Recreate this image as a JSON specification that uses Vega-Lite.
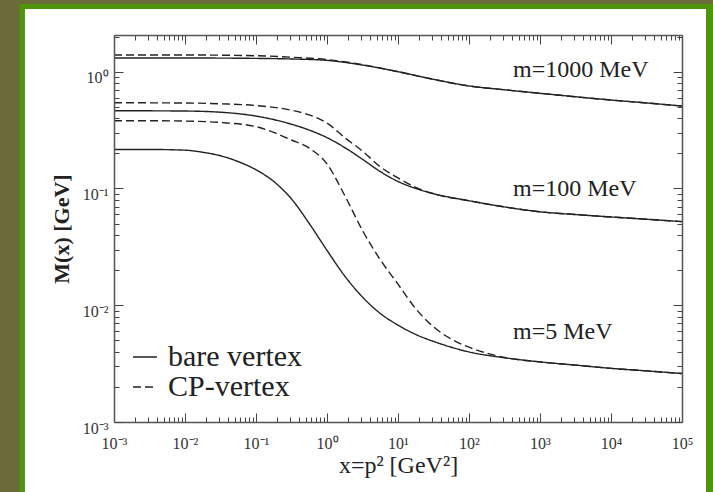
{
  "$schema": "https://vega.github.io/schema/vega-lite/v6.json",
  "width": 568,
  "height": 387,
  "autosize": {"type": "none"},
  "padding": {"left": 114, "top": 35, "right": 31, "bottom": 70},
  "background": "#6b6a3a",
  "config": {
    "font": "Liberation Serif",
    "view": {"stroke": null, "fill": null},
    "axis": {"grid": false, "domain": false, "zindex": 1, "tickColor": "#444", "tickWidth": 1, "domainColor": "#555", "domainWidth": 1.5}
  },
  "datasets": {
    "curves": [
      {"x": 0.001, "y": 1.31, "m": "1000", "vertex": "bare vertex"},
      {"x": 0.01, "y": 1.31, "m": "1000", "vertex": "bare vertex"},
      {"x": 0.1, "y": 1.30, "m": "1000", "vertex": "bare vertex"},
      {"x": 0.3162, "y": 1.285, "m": "1000", "vertex": "bare vertex"},
      {"x": 1, "y": 1.25, "m": "1000", "vertex": "bare vertex"},
      {"x": 3.162, "y": 1.14, "m": "1000", "vertex": "bare vertex"},
      {"x": 10, "y": 1.0, "m": "1000", "vertex": "bare vertex"},
      {"x": 31.62, "y": 0.86, "m": "1000", "vertex": "bare vertex"},
      {"x": 100, "y": 0.755, "m": "1000", "vertex": "bare vertex"},
      {"x": 316.2, "y": 0.70, "m": "1000", "vertex": "bare vertex"},
      {"x": 1000, "y": 0.653, "m": "1000", "vertex": "bare vertex"},
      {"x": 3162, "y": 0.61, "m": "1000", "vertex": "bare vertex"},
      {"x": 10000, "y": 0.572, "m": "1000", "vertex": "bare vertex"},
      {"x": 31623, "y": 0.54, "m": "1000", "vertex": "bare vertex"},
      {"x": 100000, "y": 0.508, "m": "1000", "vertex": "bare vertex"},

      {"x": 0.001, "y": 1.39, "m": "1000", "vertex": "CP-vertex"},
      {"x": 0.01, "y": 1.39, "m": "1000", "vertex": "CP-vertex"},
      {"x": 0.1, "y": 1.37, "m": "1000", "vertex": "CP-vertex"},
      {"x": 0.3162, "y": 1.33, "m": "1000", "vertex": "CP-vertex"},
      {"x": 1, "y": 1.27, "m": "1000", "vertex": "CP-vertex"},
      {"x": 3.162, "y": 1.15, "m": "1000", "vertex": "CP-vertex"},
      {"x": 10, "y": 1.0, "m": "1000", "vertex": "CP-vertex"},
      {"x": 31.62, "y": 0.86, "m": "1000", "vertex": "CP-vertex"},
      {"x": 100, "y": 0.755, "m": "1000", "vertex": "CP-vertex"},
      {"x": 316.2, "y": 0.70, "m": "1000", "vertex": "CP-vertex"},
      {"x": 1000, "y": 0.653, "m": "1000", "vertex": "CP-vertex"},
      {"x": 3162, "y": 0.61, "m": "1000", "vertex": "CP-vertex"},
      {"x": 10000, "y": 0.572, "m": "1000", "vertex": "CP-vertex"},
      {"x": 31623, "y": 0.54, "m": "1000", "vertex": "CP-vertex"},
      {"x": 100000, "y": 0.508, "m": "1000", "vertex": "CP-vertex"},

      {"x": 0.001, "y": 0.4634, "m": "100", "vertex": "bare vertex"},
      {"x": 0.01, "y": 0.4603, "m": "100", "vertex": "bare vertex"},
      {"x": 0.03162, "y": 0.4498, "m": "100", "vertex": "bare vertex"},
      {"x": 0.1, "y": 0.4169, "m": "100", "vertex": "bare vertex"},
      {"x": 0.3162, "y": 0.3548, "m": "100", "vertex": "bare vertex"},
      {"x": 0.5623, "y": 0.3162, "m": "100", "vertex": "bare vertex"},
      {"x": 1, "y": 0.2723, "m": "100", "vertex": "bare vertex"},
      {"x": 1.778, "y": 0.2239, "m": "100", "vertex": "bare vertex"},
      {"x": 3.162, "y": 0.1778, "m": "100", "vertex": "bare vertex"},
      {"x": 5.623, "y": 0.1396, "m": "100", "vertex": "bare vertex"},
      {"x": 10, "y": 0.1148, "m": "100", "vertex": "bare vertex"},
      {"x": 17.78, "y": 0.1, "m": "100", "vertex": "bare vertex"},
      {"x": 31.62, "y": 0.0902, "m": "100", "vertex": "bare vertex"},
      {"x": 100, "y": 0.0785, "m": "100", "vertex": "bare vertex"},
      {"x": 316.2, "y": 0.0695, "m": "100", "vertex": "bare vertex"},
      {"x": 1000, "y": 0.0631, "m": "100", "vertex": "bare vertex"},
      {"x": 3162, "y": 0.0598, "m": "100", "vertex": "bare vertex"},
      {"x": 10000, "y": 0.057, "m": "100", "vertex": "bare vertex"},
      {"x": 31623, "y": 0.0545, "m": "100", "vertex": "bare vertex"},
      {"x": 100000, "y": 0.052, "m": "100", "vertex": "bare vertex"},

      {"x": 0.001, "y": 0.542, "m": "100", "vertex": "CP-vertex"},
      {"x": 0.01, "y": 0.5395, "m": "100", "vertex": "CP-vertex"},
      {"x": 0.03162, "y": 0.5309, "m": "100", "vertex": "CP-vertex"},
      {"x": 0.1, "y": 0.5129, "m": "100", "vertex": "CP-vertex"},
      {"x": 0.3162, "y": 0.4677, "m": "100", "vertex": "CP-vertex"},
      {"x": 0.5623, "y": 0.4266, "m": "100", "vertex": "CP-vertex"},
      {"x": 1, "y": 0.3631, "m": "100", "vertex": "CP-vertex"},
      {"x": 1.778, "y": 0.2723, "m": "100", "vertex": "CP-vertex"},
      {"x": 3.162, "y": 0.2089, "m": "100", "vertex": "CP-vertex"},
      {"x": 5.623, "y": 0.1535, "m": "100", "vertex": "CP-vertex"},
      {"x": 10, "y": 0.123, "m": "100", "vertex": "CP-vertex"},
      {"x": 17.78, "y": 0.1023, "m": "100", "vertex": "CP-vertex"},
      {"x": 31.62, "y": 0.0902, "m": "100", "vertex": "CP-vertex"},
      {"x": 100, "y": 0.0785, "m": "100", "vertex": "CP-vertex"},
      {"x": 316.2, "y": 0.0695, "m": "100", "vertex": "CP-vertex"},
      {"x": 1000, "y": 0.0631, "m": "100", "vertex": "CP-vertex"},
      {"x": 3162, "y": 0.0598, "m": "100", "vertex": "CP-vertex"},
      {"x": 10000, "y": 0.057, "m": "100", "vertex": "CP-vertex"},
      {"x": 31623, "y": 0.0545, "m": "100", "vertex": "CP-vertex"},
      {"x": 100000, "y": 0.052, "m": "100", "vertex": "CP-vertex"},

      {"x": 0.001, "y": 0.2158, "m": "5", "vertex": "bare vertex"},
      {"x": 0.003162, "y": 0.2158, "m": "5", "vertex": "bare vertex"},
      {"x": 0.01, "y": 0.2128, "m": "5", "vertex": "bare vertex"},
      {"x": 0.01778, "y": 0.2042, "m": "5", "vertex": "bare vertex"},
      {"x": 0.03162, "y": 0.1905, "m": "5", "vertex": "bare vertex"},
      {"x": 0.05623, "y": 0.1698, "m": "5", "vertex": "bare vertex"},
      {"x": 0.1, "y": 0.1445, "m": "5", "vertex": "bare vertex"},
      {"x": 0.1778, "y": 0.1148, "m": "5", "vertex": "bare vertex"},
      {"x": 0.3162, "y": 0.0813, "m": "5", "vertex": "bare vertex"},
      {"x": 0.5623, "y": 0.0501, "m": "5", "vertex": "bare vertex"},
      {"x": 1, "y": 0.0295, "m": "5", "vertex": "bare vertex"},
      {"x": 1.778, "y": 0.01778, "m": "5", "vertex": "bare vertex"},
      {"x": 3.162, "y": 0.01175, "m": "5", "vertex": "bare vertex"},
      {"x": 5.623, "y": 0.00851, "m": "5", "vertex": "bare vertex"},
      {"x": 10, "y": 0.00676, "m": "5", "vertex": "bare vertex"},
      {"x": 17.78, "y": 0.00562, "m": "5", "vertex": "bare vertex"},
      {"x": 31.62, "y": 0.0049, "m": "5", "vertex": "bare vertex"},
      {"x": 56.23, "y": 0.00437, "m": "5", "vertex": "bare vertex"},
      {"x": 100, "y": 0.00398, "m": "5", "vertex": "bare vertex"},
      {"x": 316.2, "y": 0.00355, "m": "5", "vertex": "bare vertex"},
      {"x": 1000, "y": 0.00327, "m": "5", "vertex": "bare vertex"},
      {"x": 3162, "y": 0.00307, "m": "5", "vertex": "bare vertex"},
      {"x": 10000, "y": 0.00288, "m": "5", "vertex": "bare vertex"},
      {"x": 31623, "y": 0.00274, "m": "5", "vertex": "bare vertex"},
      {"x": 100000, "y": 0.0026, "m": "5", "vertex": "bare vertex"},

      {"x": 0.001, "y": 0.38, "m": "5", "vertex": "CP-vertex"},
      {"x": 0.003162, "y": 0.38, "m": "5", "vertex": "CP-vertex"},
      {"x": 0.01, "y": 0.3776, "m": "5", "vertex": "CP-vertex"},
      {"x": 0.03162, "y": 0.3673, "m": "5", "vertex": "CP-vertex"},
      {"x": 0.1, "y": 0.3388, "m": "5", "vertex": "CP-vertex"},
      {"x": 0.1778, "y": 0.302, "m": "5", "vertex": "CP-vertex"},
      {"x": 0.3162, "y": 0.26, "m": "5", "vertex": "CP-vertex"},
      {"x": 0.5623, "y": 0.2213, "m": "5", "vertex": "CP-vertex"},
      {"x": 1, "y": 0.1622, "m": "5", "vertex": "CP-vertex"},
      {"x": 1.778, "y": 0.0871, "m": "5", "vertex": "CP-vertex"},
      {"x": 3.162, "y": 0.0437, "m": "5", "vertex": "CP-vertex"},
      {"x": 5.623, "y": 0.02455, "m": "5", "vertex": "CP-vertex"},
      {"x": 10, "y": 0.01514, "m": "5", "vertex": "CP-vertex"},
      {"x": 17.78, "y": 0.00933, "m": "5", "vertex": "CP-vertex"},
      {"x": 31.62, "y": 0.00653, "m": "5", "vertex": "CP-vertex"},
      {"x": 56.23, "y": 0.00513, "m": "5", "vertex": "CP-vertex"},
      {"x": 100, "y": 0.00437, "m": "5", "vertex": "CP-vertex"},
      {"x": 177.8, "y": 0.00389, "m": "5", "vertex": "CP-vertex"},
      {"x": 316.2, "y": 0.00357, "m": "5", "vertex": "CP-vertex"},
      {"x": 1000, "y": 0.00327, "m": "5", "vertex": "CP-vertex"},
      {"x": 3162, "y": 0.00307, "m": "5", "vertex": "CP-vertex"},
      {"x": 10000, "y": 0.00288, "m": "5", "vertex": "CP-vertex"},
      {"x": 31623, "y": 0.00274, "m": "5", "vertex": "CP-vertex"},
      {"x": 100000, "y": 0.0026, "m": "5", "vertex": "CP-vertex"}
    ],
    "notes": [
      {"label": "m=1000 MeV", "x": 417, "y": 1.034},
      {"label": "m=100 MeV", "x": 417, "y": 0.0984},
      {"label": "m=5 MeV", "x": 417, "y": 0.00593}
    ]
  },
  "resolve": {"axis": {"x": "independent", "y": "independent"}},
  "layer": [
    {
      "data": {"values": [{}]},
      "mark": {"type": "rect", "color": "#4f950c", "clip": false},
      "encoding": {
        "x": {"datum": 0.0000467, "type": "quantitative", "scale": {"type": "log", "domain": [0.001, 100000], "nice": false}, "axis": null},
        "x2": {"datum": 316228},
        "y": {"datum": 0.0001, "type": "quantitative", "scale": {"type": "log", "domain": [0.001, 2.062], "nice": false}, "axis": null},
        "y2": {"datum": 3.8}
      }
    },
    {
      "data": {"values": [{}]},
      "mark": {"type": "rect", "color": "#ffffff", "clip": false},
      "encoding": {
        "x": {"datum": 0.0000557, "type": "quantitative", "axis": {
          "orient": "top", "title": null, "labels": false, "zindex": 2, "domain": true,
          "values": [0.001,0.002,0.003,0.004,0.005,0.006,0.007,0.008,0.009,0.01,0.02,0.03,0.04,0.05,0.06,0.07,0.08,0.09,0.1,0.2,0.3,0.4,0.5,0.6,0.7,0.8,0.9,1,2,3,4,5,6,7,8,9,10,20,30,40,50,60,70,80,90,100,200,300,400,500,600,700,800,900,1000,2000,3000,4000,5000,6000,7000,8000,9000,10000,20000,30000,40000,50000,60000,70000,80000,90000,100000],
          "tickSize": {"condition": {"test": "abs(log(datum.value)/LN10 - round(log(datum.value)/LN10)) < 0.01", "value": -9}, "value": -5}
        }},
        "x2": {"datum": 217800},
        "y": {"datum": 0.0001, "type": "quantitative", "axis": {
          "orient": "right", "title": null, "labels": false, "zindex": 2, "domain": true,
          "values": [0.001,0.002,0.003,0.004,0.005,0.006,0.007,0.008,0.009,0.01,0.02,0.03,0.04,0.05,0.06,0.07,0.08,0.09,0.1,0.2,0.3,0.4,0.5,0.6,0.7,0.8,0.9,1,2],
          "tickSize": {"condition": {"test": "abs(log(datum.value)/LN10 - round(log(datum.value)/LN10)) < 0.01", "value": -9}, "value": -5}
        }},
        "y2": {"datum": 3.444}
      }
    },
    {
      "data": {"name": "curves"},
      "mark": {"type": "line", "interpolate": "monotone", "color": "#222", "strokeWidth": 1.4, "clip": true},
      "encoding": {
        "x": {"field": "x", "type": "quantitative", "scale": {"type": "log", "domain": [0.001, 100000], "nice": false}, "axis": {
          "orient": "bottom", "ticks": false, "zindex": 2, "values": [0.001,0.01,0.1,1,10,100,1000,10000,100000],
          "labelExpr": "['10⁻³','10⁻²','10⁻¹','10⁰','10¹','10²','10³','10⁴','10⁵'][round(log(datum.value)/LN10)+3]",
          "labelFont": "Liberation Serif", "labelFontSize": 16, "labelColor": "#333", "labelPadding": 13,
          "labelFlush": false, "labelOverlap": false,
          "title": "x=p² [GeV²]", "titleFont": "Liberation Serif", "titleFontSize": 24, "titleFontWeight": "normal", "titleColor": "#222", "titlePadding": 2
        }},
        "y": {"field": "y", "type": "quantitative", "scale": {"type": "log", "domain": [0.001, 2.062], "nice": false}, "axis": {
          "orient": "left", "ticks": false, "zindex": 2, "values": [0.001,0.01,0.1,1],
          "labelExpr": "['10⁻³','10⁻²','10⁻¹','10⁰'][round(log(datum.value)/LN10)+3]",
          "labelFont": "Liberation Serif", "labelFontSize": 16, "labelColor": "#333", "labelPadding": 6, "labelOffset": 6,
          "labelOverlap": false, "labelFlush": false,
          "title": "M(x) [GeV]", "titleFont": "Liberation Serif", "titleFontSize": 22, "titleFontWeight": "bold", "titleColor": "#222", "titlePadding": 9
        }},
        "detail": {"field": "m"},
        "strokeDash": {"field": "vertex", "type": "nominal",
          "scale": {"domain": ["bare vertex", "CP-vertex"], "range": [[1, 0], [8, 4]]},
          "legend": {
            "title": null, "orient": "none", "legendX": 16, "legendY": 307,
            "symbolType": "stroke", "symbolSize": 576, "symbolStrokeColor": "#222", "symbolStrokeWidth": 1.5,
            "labelFont": "Liberation Serif", "labelFontSize": 30, "labelColor": "#222", "labelOffset": 8,
            "rowPadding": -8, "padding": 0, "labelLimit": 300
          }
        }
      }
    },
    {
      "data": {"name": "notes"},
      "mark": {"type": "text", "align": "left", "baseline": "middle", "font": "Liberation Serif", "fontSize": 24, "color": "#222"},
      "encoding": {
        "x": {"field": "x", "type": "quantitative", "axis": {
          "orient": "bottom", "title": null, "labels": false, "zindex": 2, "domain": true,
          "values": [0.001,0.002,0.003,0.004,0.005,0.006,0.007,0.008,0.009,0.01,0.02,0.03,0.04,0.05,0.06,0.07,0.08,0.09,0.1,0.2,0.3,0.4,0.5,0.6,0.7,0.8,0.9,1,2,3,4,5,6,7,8,9,10,20,30,40,50,60,70,80,90,100,200,300,400,500,600,700,800,900,1000,2000,3000,4000,5000,6000,7000,8000,9000,10000,20000,30000,40000,50000,60000,70000,80000,90000,100000],
          "tickSize": {"condition": {"test": "abs(log(datum.value)/LN10 - round(log(datum.value)/LN10)) < 0.01", "value": -9}, "value": -5}
        }},
        "y": {"field": "y", "type": "quantitative", "axis": {
          "orient": "left", "title": null, "labels": false, "zindex": 2, "domain": true,
          "values": [0.001,0.002,0.003,0.004,0.005,0.006,0.007,0.008,0.009,0.01,0.02,0.03,0.04,0.05,0.06,0.07,0.08,0.09,0.1,0.2,0.3,0.4,0.5,0.6,0.7,0.8,0.9,1,2],
          "tickSize": {"condition": {"test": "abs(log(datum.value)/LN10 - round(log(datum.value)/LN10)) < 0.01", "value": -9}, "value": -5}
        }},
        "text": {"field": "label"}
      }
    }
  ]
}
